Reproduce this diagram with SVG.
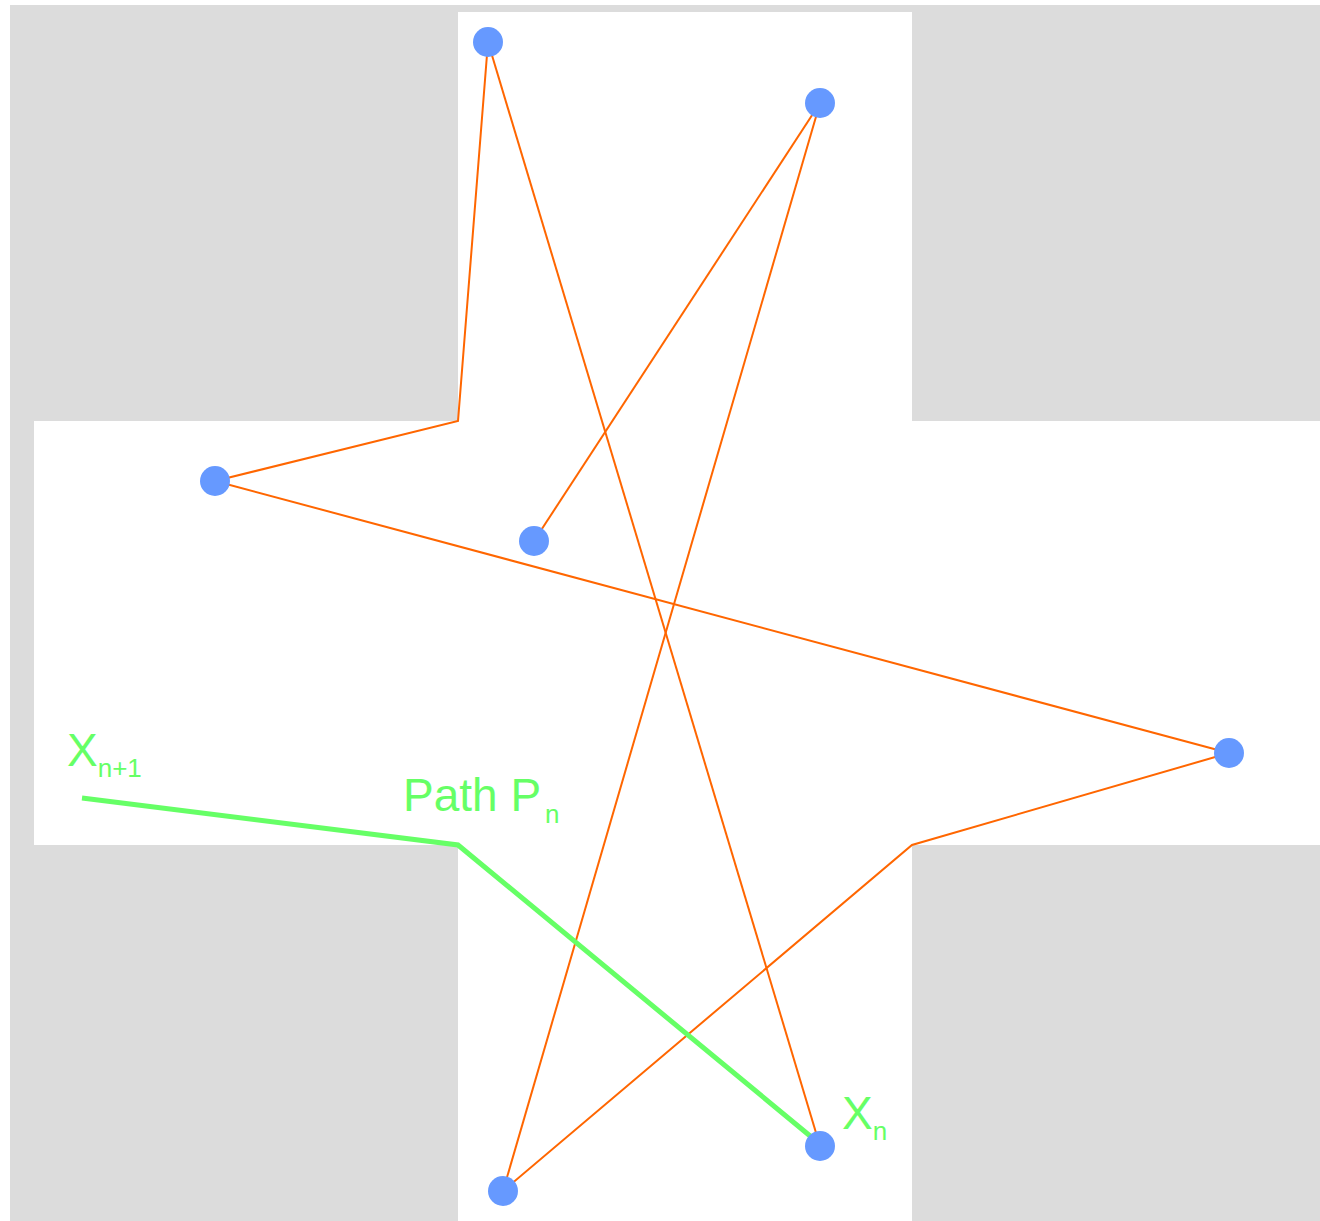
<svg xmlns="http://www.w3.org/2000/svg" width="1320" height="1221" viewBox="0 0 1320 1221">
<style>
.bg{fill:#dcdcdc}
.w{fill:#ffffff}
.edge{fill:none;stroke:#ff6600;stroke-width:2;stroke-linejoin:miter}
.path{fill:none;stroke:#66ff66;stroke-width:5}
.node{fill:#6699ff}
.lbl{font-family:"Liberation Sans",Arial,sans-serif;fill:#66ff66;font-size:46px}
.sub{font-size:26px}
</style>
<rect x="0" y="0" width="1320" height="1221" fill="#ffffff"/>
<g id="region">
<rect class="bg" x="10" y="5" width="1310" height="1216"/>
<rect class="w" x="458" y="12" width="454" height="1209"/>
<rect class="w" x="34" y="421" width="1286" height="424"/>
</g>
<g id="connectors">
<polyline class="edge" points="488,42 458,421 215,481"/>
<line class="edge" x1="488" y1="42" x2="820" y2="1146"/>
<line class="edge" x1="820" y1="103" x2="534" y2="541"/>
<line class="edge" x1="820" y1="103" x2="503" y2="1191"/>
<line class="edge" x1="215" y1="481" x2="1229" y2="753"/>
<polyline class="edge" points="1229,753 912,845 503,1191"/>
<polyline class="path" points="82,798 458,845 815,1140"/>
</g>
<g id="n1"><circle class="node" cx="488" cy="42" r="15"/></g>
<g id="n2"><circle class="node" cx="820" cy="103" r="15"/></g>
<g id="n3"><circle class="node" cx="215" cy="481" r="15"/></g>
<g id="n4"><circle class="node" cx="534" cy="541" r="15"/></g>
<g id="n5"><circle class="node" cx="1229" cy="753" r="15"/></g>
<g id="n6"><circle class="node" cx="820" cy="1146" r="15"/></g>
<g id="n7"><circle class="node" cx="503" cy="1191" r="15"/></g>
<g id="labels">
<text class="lbl" x="67" y="766">X<tspan class="sub" dy="11">n+1</tspan></text>
<text class="lbl" x="403" y="811">Path P<tspan class="sub" font-size="28" dx="4" dy="12">n</tspan></text>
<text class="lbl" x="842" y="1129">X<tspan class="sub" dy="11">n</tspan></text>
</g>
</svg>
